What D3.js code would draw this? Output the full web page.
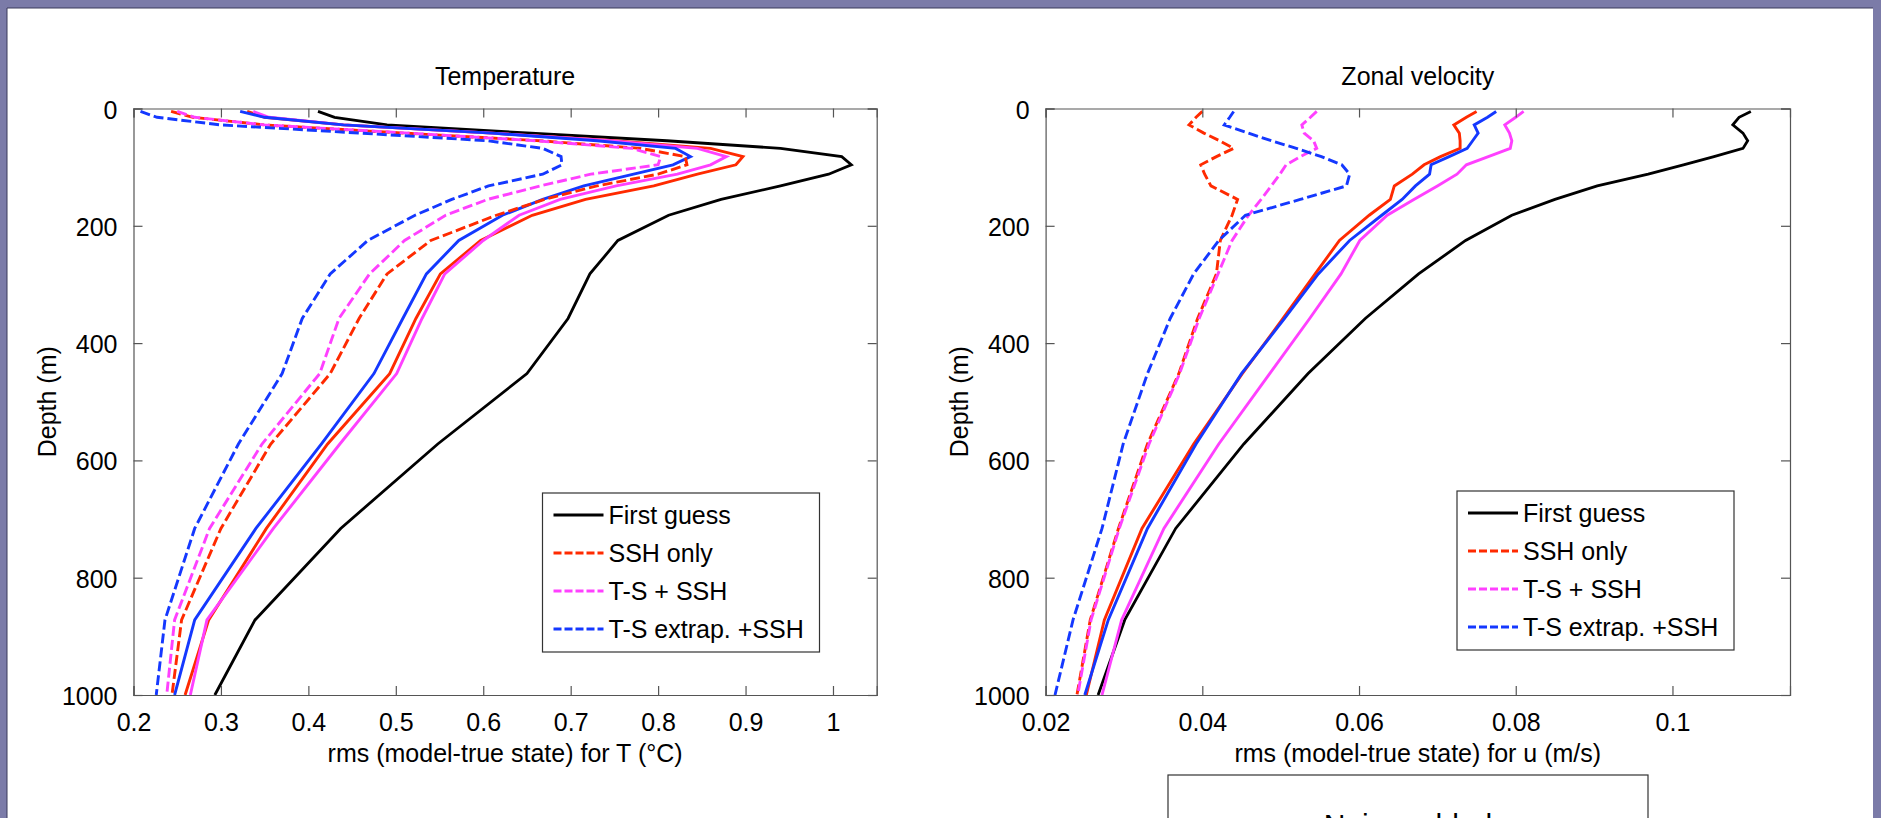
<!DOCTYPE html>
<html>
<head>
<meta charset="utf-8">
<script src="https://cdn.jsdelivr.net/npm/d3@7"></script>
<style>
  html, body { margin: 0; padding: 0; overflow: hidden; background: #7b7ba8; }
  text { font-family: "Liberation Sans", Arial, Helvetica, sans-serif; fill: #000; }
</style>
</head>
<body>
<svg id="fig" width="1881" height="818"></svg>
<script>
// Model depth levels (m)
const depths = [5, 15, 28, 42, 55, 68, 82, 96, 112, 132, 155, 182, 225, 282, 358, 452, 572, 716, 872, 1000];

// Temperature rms error (°C)
const tFirstGuess   = [0.411, 0.430, 0.490, 0.655, 0.810, 0.940, 1.010, 1.021, 0.995, 0.940, 0.872, 0.812, 0.754, 0.722, 0.697, 0.650, 0.548, 0.437, 0.339, 0.293];
const tSshOnly      = [0.243, 0.268, 0.350, 0.510, 0.665, 0.780, 0.831, 0.833, 0.800, 0.730, 0.670, 0.615, 0.540, 0.490, 0.458, 0.425, 0.357, 0.300, 0.255, 0.244];
const tTsSsh        = [0.250, 0.270, 0.350, 0.515, 0.660, 0.770, 0.803, 0.800, 0.723, 0.665, 0.605, 0.557, 0.510, 0.470, 0.435, 0.413, 0.347, 0.287, 0.247, 0.238];
const tTsExtrapSsh  = [0.208, 0.227, 0.300, 0.460, 0.605, 0.668, 0.689, 0.690, 0.668, 0.606, 0.564, 0.522, 0.468, 0.425, 0.393, 0.370, 0.320, 0.270, 0.236, 0.226];
const tSshOnlyAlt   = [0.330, 0.350, 0.440, 0.610, 0.750, 0.860, 0.897, 0.889, 0.845, 0.795, 0.717, 0.656, 0.597, 0.551, 0.523, 0.493, 0.422, 0.352, 0.286, 0.259];
const tTsSshAlt     = [0.337, 0.355, 0.440, 0.610, 0.745, 0.845, 0.878, 0.860, 0.822, 0.752, 0.688, 0.641, 0.600, 0.556, 0.530, 0.501, 0.436, 0.360, 0.284, 0.265];
const tTsExtrapAlt  = [0.322, 0.350, 0.440, 0.610, 0.730, 0.820, 0.837, 0.817, 0.772, 0.715, 0.668, 0.622, 0.572, 0.535, 0.508, 0.475, 0.415, 0.340, 0.270, 0.247];

// Zonal velocity rms error (m/s)
const uFirstGuess   = [0.1100, 0.1085, 0.1077, 0.1090, 0.1096, 0.1090, 0.1053, 0.1014, 0.0969, 0.0904, 0.0850, 0.0795, 0.0736, 0.0676, 0.0608, 0.0535, 0.0453, 0.0366, 0.0301, 0.0267];
const uSshOnly      = [0.0400, 0.0392, 0.0383, 0.0402, 0.0422, 0.0440, 0.0418, 0.0398, 0.0403, 0.0411, 0.0445, 0.0438, 0.0423, 0.0418, 0.0394, 0.0370, 0.0330, 0.0293, 0.0257, 0.0240];
const uTsSsh        = [0.0546, 0.0538, 0.0527, 0.0530, 0.0542, 0.0546, 0.0525, 0.0507, 0.0499, 0.0488, 0.0475, 0.0459, 0.0438, 0.0420, 0.0396, 0.0371, 0.0332, 0.0294, 0.0258, 0.0241];
const uTsExtrapSsh  = [0.0440, 0.0435, 0.0428, 0.0459, 0.0488, 0.0520, 0.0552, 0.0578, 0.0588, 0.0584, 0.0525, 0.0455, 0.0421, 0.0389, 0.0359, 0.0330, 0.0299, 0.0272, 0.0235, 0.0212];
const uSshOnlyAlt   = [0.0750, 0.0737, 0.0721, 0.0728, 0.0729, 0.0729, 0.0704, 0.0683, 0.0668, 0.0645, 0.0640, 0.0613, 0.0575, 0.0544, 0.0503, 0.0451, 0.0389, 0.0323, 0.0275, 0.0252];
const uTsSshAlt     = [0.0810, 0.0800, 0.0786, 0.0792, 0.0795, 0.0793, 0.0765, 0.0737, 0.0725, 0.0700, 0.0670, 0.0636, 0.0601, 0.0577, 0.0537, 0.0486, 0.0421, 0.0351, 0.0297, 0.0272];
const uTsExtrapAlt  = [0.0775, 0.0764, 0.0747, 0.0752, 0.0745, 0.0738, 0.0715, 0.0692, 0.0690, 0.0672, 0.0655, 0.0629, 0.0588, 0.0548, 0.0505, 0.0450, 0.0392, 0.0330, 0.0280, 0.0250];

// Axis ticks
const depthTicks = [0, 200, 400, 600, 800, 1000];
const tempTicks  = [0.2, 0.3, 0.4, 0.5, 0.6, 0.7, 0.8, 0.9, 1.0];
const uTicks     = [0.02, 0.04, 0.06, 0.08, 0.1];

// Legend entries
const legendLabels = ["First guess", "SSH only", "T-S + SSH", "T-S extrap. +SSH"];

const RED = "#ff2a00", MAGENTA = "#ff40ff", BLUE = "#1438ff", BLACK = "#000000";
const DASH = "10,4";

const svg = d3.select("#fig");

// page frame
svg.append("rect").attr("x", 0).attr("y", 0).attr("width", 1881).attr("height", 818).attr("fill", "#7b7ba8");
svg.append("rect").attr("x", 7).attr("y", 8).attr("width", 1866).attr("height", 820).attr("fill", "#ffffff");
svg.append("line").attr("x1", 7).attr("x2", 7).attr("y1", 8).attr("y2", 818).attr("stroke", "#3a3a5a").attr("stroke-width", 1);
svg.append("line").attr("x1", 7).attr("x2", 1873).attr("y1", 8).attr("y2", 8).attr("stroke", "#3a3a5a").attr("stroke-width", 1);

function fmt(v) { return String(+v.toFixed(3)); }

function panel(opts) {
  const x = d3.scaleLinear().domain(opts.xDomain).range([opts.left, opts.right]);
  const y = d3.scaleLinear().domain([0, 1000]).range([opts.top, opts.bottom]);
  const g = svg.append("g");

  // title
  g.append("text").attr("x", (opts.left + opts.right) / 2).attr("y", 85)
    .attr("text-anchor", "middle").attr("font-size", 25).text(opts.title);

  // series
  const line = d3.line().x(d => x(d[0])).y(d => y(d[1]));
  opts.series.forEach(s => {
    const pts = s.values.map((v, i) => [v, depths[i]]);
    g.append("path").datum(pts).attr("d", line)
      .attr("fill", "none").attr("stroke", s.color).attr("stroke-width", s.width || 2.9)
      .attr("stroke-dasharray", s.dashed ? DASH : null)
      .attr("stroke-linejoin", "miter").attr("stroke-linecap", "butt");
  });

  // axes box (ticks pointing inward on all sides)
  const tk = 9;
  const axisCol = "#555";
  const axB = g.append("g").attr("transform", `translate(0,${opts.bottom})`)
    .call(d3.axisBottom(x).tickValues(opts.xTicks).tickSize(-tk).tickPadding(tk + 9).tickFormat(fmt));
  const axT = g.append("g").attr("transform", `translate(0,${opts.top})`)
    .call(d3.axisTop(x).tickValues(opts.xTicks).tickSize(-tk).tickFormat(""));
  const axL = g.append("g").attr("transform", `translate(${opts.left},0)`)
    .call(d3.axisLeft(y).tickValues(depthTicks).tickSize(-tk).tickPadding(tk + 7).tickFormat(d3.format("d")));
  const axR = g.append("g").attr("transform", `translate(${opts.right},0)`)
    .call(d3.axisRight(y).tickValues(depthTicks).tickSize(-tk).tickFormat(""));
  [axB, axT, axL, axR].forEach(a => {
    a.select(".domain").attr("stroke", axisCol).attr("stroke-width", 1.2);
    a.selectAll(".tick line").attr("stroke", axisCol).attr("stroke-width", 1.2);
    a.selectAll(".tick text").attr("font-size", 25).attr("fill", "#000")
      .attr("font-family", "'Liberation Sans', Arial, sans-serif");
  });
  axL.selectAll(".tick text").attr("dy", "0.38em");

  // axis labels
  g.append("text").attr("x", (opts.left + opts.right) / 2).attr("y", 762)
    .attr("text-anchor", "middle").attr("font-size", 25).text(opts.xLabel);
  g.append("text").attr("transform", `translate(${opts.left - 78},${(opts.top + opts.bottom) / 2}) rotate(-90)`)
    .attr("text-anchor", "middle").attr("font-size", 25).text("Depth (m)");

  // legend
  const lg = g.append("g").attr("transform", `translate(${opts.legend[0]},${opts.legend[1]})`);
  lg.append("rect").attr("width", 277).attr("height", 159)
    .attr("fill", "#fff").attr("stroke", "#333").attr("stroke-width", 1.2);
  const legendStyles = [
    { color: BLACK, dashed: false },
    { color: RED, dashed: true },
    { color: MAGENTA, dashed: true },
    { color: BLUE, dashed: true }
  ];
  legendLabels.forEach((lab, i) => {
    const cy = 22 + i * 38;
    lg.append("line").attr("x1", 11).attr("x2", 61).attr("y1", cy).attr("y2", cy)
      .attr("stroke", legendStyles[i].color).attr("stroke-width", 3)
      .attr("stroke-dasharray", legendStyles[i].dashed ? "8,3" : null);
    lg.append("text").attr("x", 66).attr("y", cy + 9).attr("font-size", 25).text(lab);
  });
}

panel({
  title: "Temperature",
  xLabel: "rms (model-true state) for T (°C)",
  xDomain: [0.2, 1.05], xTicks: tempTicks,
  left: 133.5, right: 876.7, top: 108.5, bottom: 695,
  legend: [542.5, 493],
  series: [
    { values: tFirstGuess, color: BLACK, width: 2.8 },
    { values: tSshOnlyAlt, color: RED },
    { values: tTsSshAlt, color: MAGENTA },
    { values: tTsExtrapAlt, color: BLUE },
    { values: tSshOnly, color: RED, dashed: true },
    { values: tTsSsh, color: MAGENTA, dashed: true },
    { values: tTsExtrapSsh, color: BLUE, dashed: true }
  ]
});

panel({
  title: "Zonal velocity",
  xLabel: "rms (model-true state) for u (m/s)",
  xDomain: [0.02, 0.115], xTicks: uTicks,
  left: 1045.6, right: 1790, top: 108.5, bottom: 695,
  legend: [1457, 491],
  series: [
    { values: uFirstGuess, color: BLACK, width: 2.8 },
    { values: uSshOnlyAlt, color: RED },
    { values: uTsSshAlt, color: MAGENTA },
    { values: uTsExtrapAlt, color: BLUE },
    { values: uSshOnly, color: RED, dashed: true },
    { values: uTsSsh, color: MAGENTA, dashed: true },
    { values: uTsExtrapSsh, color: BLUE, dashed: true }
  ]
});

// caption box below the velocity panel
const cap = svg.append("g");
cap.append("rect").attr("x", 1168).attr("y", 775).attr("width", 480).attr("height", 80)
  .attr("fill", "#fff").attr("stroke", "#333").attr("stroke-width", 1.2);
cap.append("text").attr("x", 1408).attr("y", 835).attr("text-anchor", "middle")
  .attr("font-size", 30).text("Noise added");
</script>
</body>
</html>
